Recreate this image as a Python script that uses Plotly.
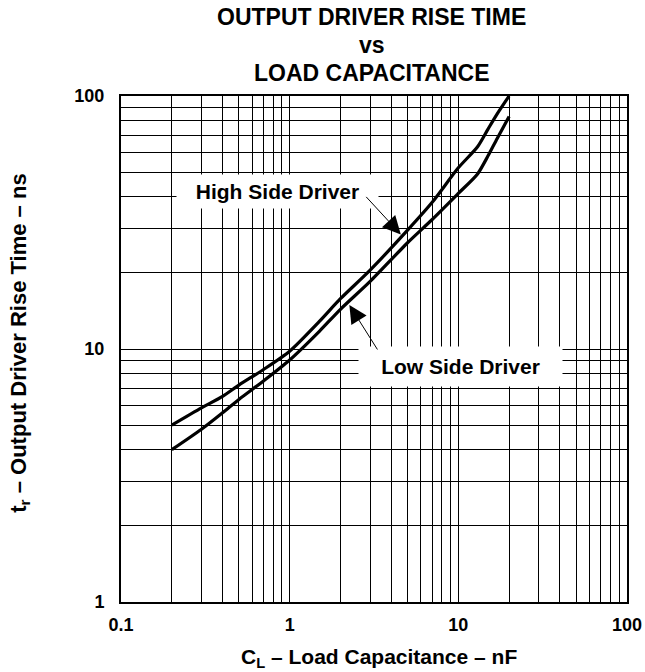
import plotly.graph_objects as go

# ---- data ----
cap_nf = [0.2, 0.3, 0.4, 0.5, 0.7, 1.0, 1.5, 2.0, 3.0, 5.0, 7.0, 10.0, 13.0, 15.0, 17.0, 20.0]
high_side_ns = [5.0, 5.85, 6.5, 7.2, 8.3, 9.8, 12.85, 15.8, 20.5, 29.5, 38.0, 52.0, 63.0, 74.0, 85.0, 100.0]
low_side_ns = [4.0, 4.82, 5.6, 6.32, 7.48, 9.05, 11.75, 14.35, 18.5, 26.3, 32.5, 41.2, 49.2, 58.0, 68.0, 83.0]

x_grid_vals = [0.1, 0.2, 0.3, 0.4, 0.5, 0.6, 0.7, 0.8, 0.9,
               1, 2, 3, 4, 5, 6, 7, 8, 9,
               10, 20, 30, 40, 50, 60, 70, 80, 90, 100]
x_tick_text = ["0.1", "", "", "", "", "", "", "", "",
               "1", "", "", "", "", "", "", "", "",
               "10", "", "", "", "", "", "", "", "", "100"]
y_grid_vals = [1, 2, 3, 4, 5, 6, 7, 8, 9,
               10, 20, 30, 40, 50, 60, 70, 80, 90, 100]
y_tick_text = ["1", "", "", "", "", "", "", "", "",
               "10", "", "", "", "", "", "", "", "", "100"]

title_lines = ["OUTPUT DRIVER RISE TIME", "vs", "LOAD CAPACITANCE"]
x_title = "C<sub>L</sub> – Load Capacitance – nF"
y_title = "t<sub>r</sub> – Output Driver Rise Time – ns"

FONT = "Liberation Sans, Arial, Helvetica, sans-serif"

fig = go.Figure()
fig.add_trace(go.Scatter(x=cap_nf, y=high_side_ns, mode="lines", name="High Side Driver",
                         line=dict(color="black", width=3.2, shape="spline", smoothing=0.7)))
fig.add_trace(go.Scatter(x=cap_nf, y=low_side_ns, mode="lines", name="Low Side Driver",
                         line=dict(color="black", width=3.2, shape="spline", smoothing=0.7)))

axis_common = dict(
    type="log", showgrid=True, gridcolor="black", gridwidth=1,
    showline=True, linecolor="black", linewidth=2, mirror=True,
    ticks="", zeroline=False, tickmode="array", automargin=False,
    tickfont=dict(family=FONT, size=18, color="black", weight="bold"),
)
fig.update_xaxes(range=[-1, 2], tickvals=x_grid_vals, ticktext=x_tick_text,
                 ticklabelstandoff=5, **axis_common)
fig.update_yaxes(range=[0, 2], tickvals=y_grid_vals, ticktext=y_tick_text,
                 ticklabelstandoff=11, **axis_common)

annotations = []
title_y = [1.156, 1.1008, 1.0455]
for t, yy in zip(title_lines, title_y):
    annotations.append(dict(text=t, xref="paper", yref="paper", x=0.496, y=yy,
                            showarrow=False, xanchor="center", yanchor="middle",
                            font=dict(family=FONT, size=23, color="black", weight="bold")))
annotations.append(dict(text=x_title, xref="paper", yref="paper", x=0.51, y=-0.11,
                        showarrow=False, xanchor="center", yanchor="middle",
                        font=dict(family=FONT, size=21, color="black", weight="bold")))
annotations.append(dict(text=y_title, xref="paper", yref="paper", x=-0.2, y=0.512,
                        showarrow=False, xanchor="center", yanchor="middle", textangle=-90,
                        font=dict(family=FONT, size=22, color="black", weight="bold")))
# curve labels with white boxes
annotations.append(dict(text="High Side Driver", xref="paper", yref="paper", x=0.3093, y=0.8113,
                        showarrow=False, xanchor="center", yanchor="middle",
                        bgcolor="white", width=201, height=33, borderpad=0,
                        font=dict(family=FONT, size=21, color="black", weight="bold")))
annotations.append(dict(text="Low Side Driver", xref="paper", yref="paper", x=0.671, y=0.4654,
                        showarrow=False, xanchor="center", yanchor="middle",
                        bgcolor="white", width=203, height=39, borderpad=0,
                        font=dict(family=FONT, size=21, color="black", weight="bold")))
# arrows
annotations.append(dict(text="", x=0.6590, y=1.453, xref="x", yref="y",
                        showarrow=True, ax=-36, ay=-39, arrowhead=2, arrowsize=3.6,
                        arrowwidth=1, arrowcolor="black"))
annotations.append(dict(text="", x=0.354, y=1.174, xref="x", yref="y",
                        showarrow=True, ax=29, ay=46, arrowhead=2, arrowsize=3.6,
                        arrowwidth=1, arrowcolor="black"))

fig.update_layout(
    width=645, height=672, autosize=False,
    margin=dict(l=121, r=18, t=96, b=70, autoexpand=False),
    paper_bgcolor="white", plot_bgcolor="white",
    showlegend=False, annotations=annotations,
)
fig.write_html("out.html", config={"displayModeBar": False},
               post_script="document.body.style.margin='0';document.body.style.overflow='hidden';")
